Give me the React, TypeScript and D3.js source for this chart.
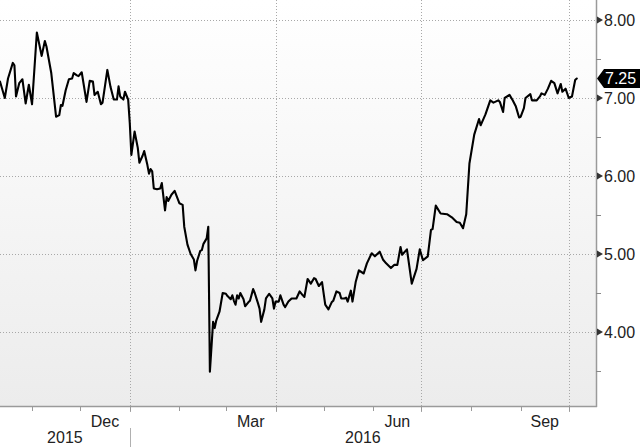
import React from 'react';
import * as d3 from 'd3';

const dates = [
  '2015-10-12','2015-10-15','2015-10-17','2015-10-20','2015-10-21','2015-10-22','2015-10-24','2015-10-26','2015-10-28','2015-10-30',
  '2015-11-01','2015-11-04','2015-11-07','2015-11-09','2015-11-10','2015-11-13','2015-11-16','2015-11-18','2015-11-19','2015-11-20',
  '2015-11-22','2015-11-24','2015-11-26','2015-11-27','2015-11-29','2015-11-30','2015-12-02','2015-12-05','2015-12-07','2015-12-09',
  '2015-12-10','2015-12-12','2015-12-14','2015-12-15','2015-12-18','2015-12-20','2015-12-22','2015-12-24','2015-12-25','2015-12-26',
  '2015-12-28','2015-12-29','2015-12-31','2016-01-01','2016-01-02','2016-01-04','2016-01-06','2016-01-07','2016-01-09','2016-01-10',
  '2016-01-12','2016-01-13','2016-01-14','2016-01-15','2016-01-16','2016-01-18','2016-01-20','2016-01-21','2016-01-23','2016-01-24',
  '2016-01-25','2016-01-27','2016-01-29','2016-02-01','2016-02-03','2016-02-04','2016-02-06','2016-02-08','2016-02-10','2016-02-11',
  '2016-02-12','2016-02-14','2016-02-15','2016-02-16','2016-02-18','2016-02-19','2016-02-20','2016-02-22','2016-02-23','2016-02-24',
  '2016-02-26','2016-02-28','2016-03-01','2016-03-02','2016-03-04','2016-03-05','2016-03-06','2016-03-07','2016-03-08','2016-03-09',
  '2016-03-10','2016-03-12','2016-03-13','2016-03-15','2016-03-16','2016-03-18','2016-03-19','2016-03-21','2016-03-22','2016-03-23',
  '2016-03-25','2016-03-26','2016-03-28','2016-03-30','2016-03-31','2016-04-01','2016-04-03','2016-04-04','2016-04-06','2016-04-07',
  '2016-04-09','2016-04-11','2016-04-14','2016-04-16','2016-04-18','2016-04-19','2016-04-21','2016-04-23','2016-04-25','2016-04-26',
  '2016-04-28','2016-04-30','2016-05-02','2016-05-04','2016-05-06','2016-05-07','2016-05-09','2016-05-11','2016-05-12','2016-05-14',
  '2016-05-15','2016-05-16','2016-05-18','2016-05-19','2016-05-21','2016-05-23','2016-05-26','2016-05-28','2016-05-31','2016-06-02',
  '2016-06-05','2016-06-07','2016-06-09','2016-06-12','2016-06-14','2016-06-16','2016-06-18','2016-06-19','2016-06-22','2016-06-25',
  '2016-06-28','2016-06-30','2016-07-02','2016-07-05','2016-07-07','2016-07-08','2016-07-10','2016-07-13','2016-07-17','2016-07-20',
  '2016-07-23','2016-07-25','2016-07-27','2016-07-29','2016-07-31','2016-08-03','2016-08-06','2016-08-07','2016-08-10','2016-08-13',
  '2016-08-15','2016-08-18','2016-08-19','2016-08-21','2016-08-22','2016-08-25','2016-08-27','2016-08-29','2016-08-31','2016-09-01',
  '2016-09-03','2016-09-04','2016-09-07','2016-09-08','2016-09-11','2016-09-13','2016-09-14','2016-09-16','2016-09-18','2016-09-20',
  '2016-09-22','2016-09-24','2016-09-26','2016-09-27','2016-09-29','2016-10-01','2016-10-03','2016-10-05','2016-10-06',
];

const values = [
  7.21, 7.00, 7.25, 7.45, 7.42, 7.02, 7.19, 7.24, 6.93, 7.17,
  6.92, 7.84, 7.54, 7.73, 7.66, 7.32, 6.76, 6.78, 6.91, 6.90,
  7.10, 7.24, 7.25, 7.32, 7.29, 7.28, 7.33, 6.95, 7.22, 7.21,
  7.04, 7.08, 6.92, 6.94, 7.36, 7.14, 6.98, 6.98, 7.15, 7.02,
  6.98, 7.08, 6.98, 6.68, 6.27, 6.57, 6.36, 6.17, 6.26, 6.32,
  6.14, 6.03, 6.09, 6.06, 5.84, 5.83, 5.84, 5.91, 5.56, 5.73,
  5.68, 5.76, 5.81, 5.65, 5.63, 5.35, 5.12, 5.00, 4.93, 4.79,
  4.91, 5.04, 5.05, 5.13, 5.20, 5.35, 3.49, 4.13, 4.05, 4.15,
  4.26, 4.50, 4.49, 4.46, 4.42, 4.47, 4.40, 4.35, 4.47, 4.43,
  4.50, 4.42, 4.33, 4.38, 4.40, 4.55, 4.50, 4.37, 4.30, 4.13,
  4.29, 4.43, 4.49, 4.43, 4.30, 4.39, 4.39, 4.47, 4.35, 4.32,
  4.39, 4.43, 4.43, 4.52, 4.47, 4.45, 4.68, 4.62, 4.69, 4.68,
  4.59, 4.64, 4.35, 4.29, 4.38, 4.40, 4.52, 4.50, 4.43, 4.43,
  4.44, 4.39, 4.53, 4.39, 4.64, 4.79, 4.75, 4.88, 5.01, 4.97,
  5.03, 4.93, 4.88, 4.82, 4.86, 4.86, 5.09, 4.99, 5.06, 4.62,
  4.81, 5.06, 4.92, 4.97, 5.31, 5.32, 5.62, 5.52, 5.51, 5.47,
  5.41, 5.40, 5.33, 5.51, 6.16, 6.53, 6.73, 6.65, 6.79, 6.97,
  6.94, 6.97, 6.95, 6.82, 7.00, 7.04, 6.97, 6.89, 6.75, 6.76,
  6.87, 7.00, 7.05, 6.97, 6.97, 7.02, 7.06, 7.04, 7.12, 7.22,
  7.19, 7.06, 7.18, 7.08, 7.12, 7.00, 7.02, 7.23, 7.25,
];

const yTicks = [4, 5, 6, 7, 8];
const yMinorTicks = [3.5, 4.5, 5.5, 6.5, 7.5];
const gridDates = ['2016-01-01', '2016-04-01', '2016-07-01', '2016-10-01'];
const monthLabels = ['Dec', 'Mar', 'Jun', 'Sep'];
const monthLabelDates = ['2015-12-01', '2016-03-01', '2016-06-01', '2016-09-01'];
const yearLabels = ['2015', '2016'];
const yearStarts = ['2015-01-01', '2016-01-01', '2017-01-01'];
const lastLabel = '7.25';

const W = 640;
const H = 447;
const PLOT_R = 596;
const PLOT_B = 406;
const FONT = '"Liberation Sans", Arial, sans-serif';

const parse = d3.timeParse('%Y-%m-%d');

export default function App() {
  const x = d3.scaleTime()
    .domain([parse('2015-10-12') as Date, parse('2016-10-18') as Date])
    .range([0, PLOT_R]);
  const y = d3.scaleLinear().domain([3.0513, 8.2564]).range([PLOT_B, 0]);

  const data = dates.map((d, i) => ({ date: parse(d) as Date, value: values[i] }));
  const line = d3.line<{ date: Date; value: number }>()
    .x(d => x(d.date))
    .y(d => y(d.value))
    .curve(d3.curveLinear);

  const [d0, d1] = x.domain();
  const monthTicks = d3.timeMonth.range(d3.timeMonth.ceil(d0), d1);
  const gridX = gridDates.map(d => x(parse(d) as Date));

  const yearSep = yearStarts.map(d => x(parse(d) as Date));
  const yearCenters = yearLabels.map((_, i) => {
    const a = Math.max(0, yearSep[i]);
    const b = Math.min(PLOT_R, yearSep[i + 1]);
    return (a + b) / 2;
  });

  const lastY = y(values[values.length - 1]);

  return (
    <svg
      width={W}
      height={H}
      style={{ position: 'absolute', left: 0, top: 0, background: '#fff' }}
      fontFamily={FONT}
    >
      <defs>
        <linearGradient id="bg" x1="0" y1="0" x2="0" y2="1">
          <stop offset="0%" stopColor="#ffffff" />
          <stop offset="100%" stopColor="#ececec" />
        </linearGradient>
        <clipPath id="plot">
          <rect x={0} y={0} width={PLOT_R} height={PLOT_B} />
        </clipPath>
      </defs>
      <rect x={0} y={0} width={PLOT_R} height={PLOT_B} fill="url(#bg)" />

      {/* horizontal grid */}
      {yTicks.map(t => (
        <line key={'hg' + t} x1={0} x2={PLOT_R} y1={Math.round(y(t)) + 0.5} y2={Math.round(y(t)) + 0.5}
          stroke="#a8a8a8" strokeWidth={1} strokeDasharray="1,2" />
      ))}
      {/* vertical grid */}
      {gridX.map((gx, i) => (
        <line key={'vg' + i} x1={Math.round(gx) + 0.5} x2={Math.round(gx) + 0.5} y1={0} y2={PLOT_B + 6}
          stroke="#a8a8a8" strokeWidth={1} strokeDasharray="1,2" />
      ))}

      <path d={line(data) || ''} fill="none" stroke="#000" strokeWidth={2.1}
        strokeLinejoin="round" strokeLinecap="round" clipPath="url(#plot)" />

      {/* axes */}
      <line x1={PLOT_R + 0.5} x2={PLOT_R + 0.5} y1={0} y2={PLOT_B + 1} stroke="#9a9a9a" strokeWidth={1.5} />
      <line x1={0} x2={PLOT_R + 1} y1={PLOT_B + 0.5} y2={PLOT_B + 0.5} stroke="#9a9a9a" strokeWidth={1.5} />

      {/* month ticks */}
      {monthTicks.map((m, i) => (
        <line key={'mt' + i} x1={Math.round(x(m)) + 0.5} x2={Math.round(x(m)) + 0.5} y1={PLOT_B} y2={PLOT_B + 5}
          stroke="#9a9a9a" strokeWidth={1} />
      ))}

      {/* month labels centered in month */}
      {monthLabels.map((lab, i) => {
        const s = parse(monthLabelDates[i]) as Date;
        const e = d3.timeMonth.offset(s, 1);
        const cx = (x(s) + x(e)) / 2;
        return (
          <text key={'ml' + i} x={cx} y={427} textAnchor="middle" fontSize={16} fill="#222">{lab}</text>
        );
      })}

      {/* year separator & labels */}
      {yearSep.filter(v => v > 0 && v < PLOT_R).map((v, i) => (
        <line key={'ys' + i} x1={Math.round(v) + 0.5} x2={Math.round(v) + 0.5} y1={428} y2={H}
          stroke="#b0b0b0" strokeWidth={1} />
      ))}
      {yearLabels.map((lab, i) => (
        <text key={'yl' + i} x={yearCenters[i]} y={443} textAnchor="middle" fontSize={16} fill="#222">{lab}</text>
      ))}

      {/* y minor ticks */}
      {yMinorTicks.map(t => (
        <line key={'ym' + t} x1={PLOT_R} x2={PLOT_R + 5} y1={Math.round(y(t)) + 0.5} y2={Math.round(y(t)) + 0.5}
          stroke="#888" strokeWidth={1} />
      ))}
      {/* y major ticks and labels */}
      {yTicks.map(t => {
        const ty = y(t);
        return (
          <g key={'yt' + t}>
            <path d={`M${PLOT_R + 1},${ty - 3.5} L${PLOT_R + 7},${ty} L${PLOT_R + 1},${ty + 3.5} Z`} fill="#333" />
            <text x={PLOT_R + 8} y={ty + 6} fontSize={16} fill="#222">{t.toFixed(2)}</text>
          </g>
        );
      })}

      {/* last value tag */}
      <path
        d={`M${PLOT_R + 1},${lastY} L${PLOT_R + 8},${lastY - 9.5} L${W},${lastY - 9.5} L${W},${lastY + 9.5} L${PLOT_R + 8},${lastY + 9.5} Z`}
        fill="#000"
      />
      <text x={PLOT_R + 9} y={lastY + 6} fontSize={16} fill="#fff">{lastLabel}</text>
    </svg>
  );
}
